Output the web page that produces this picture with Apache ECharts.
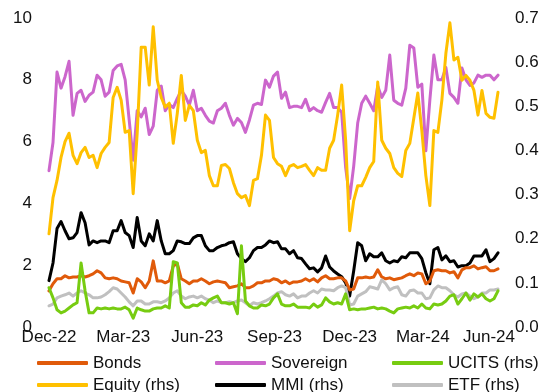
<!DOCTYPE html>
<html>
<head>
<meta charset="utf-8">
<script src="https://cdn.jsdelivr.net/npm/echarts@6/dist/echarts.min.js"></script>
<style>
html,body{margin:0;padding:0;background:#fff;}
#chart{width:551px;height:392px;}
</style>
</head>
<body>
<div id="chart"></div>
<script>
// x tick labels (month starts) and where they fall on the observation index
const xTickLabels = ['Dec-22','Mar-23','Jun-23','Sep-23','Dec-23','Mar-24','Jun-24'];
const xTickIndex = [0, 18.5, 37, 56.25, 75, 93.25, 109.75];

// left axis series
const bonds = [1.17,1.4,1.56,1.56,1.66,1.59,1.62,1.62,1.66,1.62,
1.66,1.72,1.82,1.75,1.59,1.56,1.59,1.56,1.49,1.46,
1.43,1.1,1.56,1.46,1.27,1.49,2.14,1.49,1.49,1.43,
1.49,1.98,2.05,1.56,1.49,1.4,1.49,1.49,1.56,1.49,
1.4,1.46,1.49,1.46,1.43,1.27,1.3,1.33,1.4,1.27,
1.27,1.33,1.43,1.43,1.49,1.49,1.56,1.53,1.43,1.49,
1.4,1.46,1.46,1.49,1.56,1.49,1.56,1.46,1.59,1.66,
1.56,1.56,1.59,1.59,1.49,1.2,1.23,1.59,1.59,1.62,
1.59,1.62,1.85,1.62,1.56,1.59,1.53,1.56,1.59,1.66,
1.72,1.66,1.75,1.72,1.4,1.49,1.82,1.85,1.82,1.82,
1.75,1.79,1.59,1.85,1.92,1.92,1.98,1.88,1.92,1.95,
1.82,1.82,1.88];
const sovereign = [5.06,5.97,8.25,7.73,8.1,8.6,6.85,7.56,7.66,7.3,
7.5,7.6,8.15,8.0,7.47,7.6,8.3,8.45,8.5,8.0,
6.7,5.4,7.0,6.8,7.08,6.23,6.5,7.66,7.8,7.0,
7.2,7.1,7.4,7.66,7.47,7.18,7.66,7.0,7.08,6.85,
6.66,6.6,7.0,7.08,7.24,6.85,6.53,6.75,6.62,6.3,
6.7,7.18,7.24,7.2,7.99,7.76,8.12,8.25,7.4,7.6,
7.1,7.14,7.14,7.1,7.37,7.0,7.1,7.0,6.95,7.27,
7.56,7.1,7.1,6.95,5.16,4.16,5.2,6.6,7.24,7.47,
7.24,7.0,7.8,7.43,7.66,8.8,7.34,7.24,7.18,7.73,
9.12,9.03,7.76,7.86,5.7,7.34,8.8,8.0,8.0,8.4,
7.56,7.43,7.24,8.38,8.0,7.82,7.9,8.15,8.08,8.15,
8.15,8.0,8.15];

// right axis series (rhs)
const ucits = [.089,.066,.039,.032,.036,.043,.05,.055,.145,.082,
.032,.032,.043,.041,.043,.041,.043,.041,.041,.045,
.039,.02,.043,.039,.036,.036,.041,.043,.043,.048,
.043,.148,.145,.055,.045,.045,.05,.048,.055,.05,
.061,.066,.07,.055,.055,.052,.055,.03,.184,.059,
.048,.043,.043,.05,.048,.052,.066,.075,.052,.048,
.048,.052,.045,.045,.045,.043,.052,.045,.05,.066,
.057,.052,.055,.052,.075,.039,.041,.039,.041,.041,
.043,.045,.041,.043,.041,.036,.032,.041,.043,.045,
.043,.048,.043,.052,.043,.041,.052,.05,.052,.059,
.07,.073,.052,.064,.077,.061,.075,.068,.075,.064,
.059,.064,.082];
const equity = [.211,.293,.332,.384,.42,.439,.389,.37,.395,.407,
.384,.389,.361,.393,.407,.418,.52,.543,.514,.441,
.445,.302,.439,.634,.634,.548,.68,.559,.52,.498,
.507,.416,.484,.57,.468,.502,.49,.423,.395,.4,
.343,.32,.32,.366,.368,.359,.327,.302,.293,.298,
.275,.332,.336,.389,.48,.468,.384,.37,.364,.343,
.364,.368,.361,.364,.368,.355,.343,.361,.355,.355,
.405,.423,.48,.548,.423,.218,.286,.32,.32,.339,
.361,.375,.555,.423,.405,.393,.361,.348,.341,.4,
.416,.473,.53,.445,.343,.275,.445,.441,.514,.62,
.689,.605,.611,.559,.57,.559,.536,.48,.536,.484,
.475,.473,.532];
const mmi = [.105,.145,.223,.239,.218,.2,.202,.214,.259,.236,
.186,.195,.191,.195,.195,.191,.218,.218,.241,.214,
.207,.18,.248,.195,.184,.211,.195,.241,.195,.166,
.166,.173,.195,.193,.189,.189,.202,.207,.207,.184,
.173,.173,.18,.184,.186,.191,.193,.166,.155,.148,
.157,.173,.18,.18,.186,.195,.191,.193,.177,.177,
.166,.173,.157,.155,.143,.132,.134,.125,.134,.161,
.136,.127,.12,.114,.1,.07,.127,.191,.184,.15,
.166,.159,.159,.168,.15,.145,.15,.148,.159,.157,
.168,.168,.168,.155,.123,.098,.175,.18,.152,.161,
.148,.15,.136,.139,.139,.145,.161,.161,.161,.175,
.148,.155,.168];
const etf = [.048,.052,.066,.07,.073,.077,.07,.077,.082,.077,
.073,.066,.066,.068,.073,.08,.089,.086,.077,.068,
.057,.048,.059,.059,.052,.052,.057,.057,.055,.059,
.066,.077,.082,.07,.064,.068,.07,.066,.07,.064,
.061,.055,.059,.055,.055,.057,.055,.059,.061,.055,
.048,.055,.052,.055,.059,.064,.07,.077,.08,.073,
.07,.075,.066,.07,.07,.077,.082,.077,.086,.084,
.084,.082,.089,.093,.089,.05,.052,.07,.075,.08,
.091,.089,.086,.107,.098,.084,.089,.091,.073,.07,
.082,.084,.077,.077,.064,.066,.084,.093,.089,.089,
.082,.073,.068,.075,.077,.07,.064,.068,.077,.077,
.084,.084,.086];

const FONT = "'Liberation Sans', Arial, sans-serif";
const toPairs = arr => arr.map((v, i) => [i, v]);

function line(name, data, color, yAxisIndex) {
  return {
    name, type: 'line', yAxisIndex, data: toPairs(data),
    symbol: 'none', showSymbol: false, smooth: false,
    lineStyle: { color, width: 3, cap: 'round', join: 'round' },
    itemStyle: { color },
    emphasis: { disabled: true }
  };
}

const legendBase = {
  orient: 'vertical', top: 354, height: 80, padding: 0, itemGap: 4,
  itemWidth: 51, itemHeight: 4, icon: 'roundRect',
  textStyle: { fontFamily: FONT, fontSize: 17, color: '#111', lineHeight: 18 },
  selectedMode: false
};

const chart = echarts.init(document.getElementById('chart'), null, { renderer: 'canvas' });
chart.setOption({
  animation: false,
  backgroundColor: '#fff',
  grid: { left: 49, right: 53, top: 18, bottom: 65 },
  xAxis: {
    type: 'value', min: 0, max: bonds.length - 1,
    axisLine: { show: false }, axisTick: { show: false }, splitLine: { show: false },
    axisLabel: {
      customValues: xTickIndex,
      formatter: v => xTickLabels[xTickIndex.indexOf(v)] || '',
      fontFamily: FONT, fontSize: 17, color: '#111', margin: 2
    }
  },
  yAxis: [
    {
      type: 'value', min: 0, max: 10, interval: 2,
      axisLine: { show: false }, axisTick: { show: false }, splitLine: { show: false },
      axisLabel: { fontFamily: FONT, fontSize: 17, color: '#111', margin: 17 }
    },
    {
      type: 'value', min: 0, max: 0.7, interval: 0.1, position: 'right',
      axisLine: { show: false }, axisTick: { show: false }, splitLine: { show: false },
      axisLabel: { fontFamily: FONT, fontSize: 17, color: '#111', margin: 17,
        formatter: v => v.toFixed(1) }
    }
  ],
  legend: [
    Object.assign({}, legendBase, { left: 37, data: ['Bonds', 'Equity (rhs)'] }),
    Object.assign({}, legendBase, { left: 215, data: ['Sovereign', 'MMI (rhs)'] }),
    Object.assign({}, legendBase, { left: 392, data: ['UCITS (rhs)', 'ETF (rhs)'] })
  ],
  series: [
    line('Sovereign', sovereign, '#CC66CC', 0),
    line('Equity (rhs)', equity, '#FFC000', 1),
    line('MMI (rhs)', mmi, '#000000', 1),
    line('Bonds', bonds, '#E05A0A', 0),
    line('ETF (rhs)', etf, '#C0C0C0', 1),
    line('UCITS (rhs)', ucits, '#77CC11', 1)
  ]
});
</script>
</body>
</html>
